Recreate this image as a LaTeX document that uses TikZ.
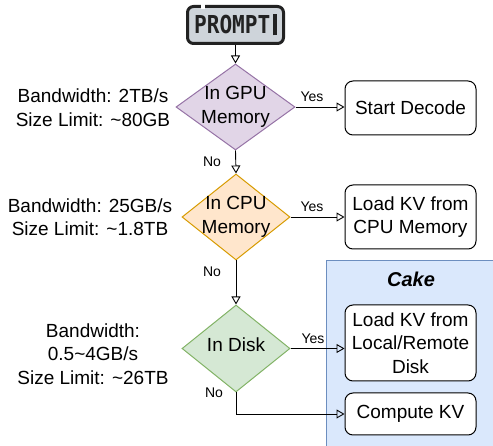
\documentclass[tikz,border=0pt]{standalone}
\usepackage{fontspec}
\setmainfont{Liberation Sans}
\newfontfamily\promptfont{DejaVu Sans Mono Bold}
\usetikzlibrary{shapes.geometric,arrows.meta}
\definecolor{gpuf}{HTML}{E1D5E7}
\definecolor{gpud}{HTML}{9673A6}
\definecolor{cpuf}{HTML}{FFE6CC}
\definecolor{cpud}{HTML}{D79B00}
\definecolor{dskf}{HTML}{D5E8D4}
\definecolor{dskd}{HTML}{82B366}
\definecolor{cakef}{HTML}{DAE8FC}
\definecolor{caked}{HTML}{6C8EBF}
\definecolor{promptf}{HTML}{CED4DA}
\definecolor{promptd}{HTML}{222222}
\begin{document}
\begin{tikzpicture}[x=1pt,y=-1pt,
  txt/.style={font=\fontsize{19}{23.5}\selectfont, align=center, inner sep=0pt},
  box/.style={txt, draw, rounded corners=8pt, fill=white, line width=1pt, minimum width=131pt},
  dia/.style={diamond, draw, line width=1pt, inner sep=0pt, minimum height=86pt},
  arr/.style={-{Triangle[open,length=8pt,width=9pt]}, line width=0.9pt},
  lbl/.style={font=\fontsize{14}{16}\selectfont, inner sep=0pt},
  ln/.style={line width=0.9pt}]
\useasboundingbox (0,0) rectangle (493,446);
% container
\node[draw=caked, fill=cakef, line width=1pt, minimum width=171pt, minimum height=189pt, inner sep=0pt] (cake) at (411.5,355.5) {};
\node[txt, font=\fontsize{20}{24}\selectfont\bfseries\itshape] (caketitle) at (411,279) {Cake};
% prompt
\node[draw=promptd, fill=promptf, line width=3pt, rounded corners=6pt, minimum width=96pt, minimum height=37pt, inner sep=0pt, text=promptd] (prompt) at (235.5,25)
  {\scalebox{0.88}[1.03]{\promptfont\fontsize{24}{26}\selectfont PROMPT}\hspace{3pt}\rule[-2pt]{3.5pt}{21pt}};
\fill[white] (201,2) rectangle (205,9);
% diamonds
\node[dia, fill=gpuf, draw=gpud, minimum width=119pt] (gpu) at (235.5,107) {};
\node[txt] (gputxt) at (235.5,107) {In GPU\\Memory};
\node[dia, fill=cpuf, draw=cpud, minimum width=108pt] (cpu) at (236,217) {};
\node[txt] (cputxt) at (236,217) {In CPU\\Memory};
\node[dia, fill=dskf, draw=dskd, minimum width=108pt, minimum height=87pt] (disk) at (236,348.5) {};
\node[txt] (disktxt) at (236,345) {In Disk};
% boxes
\node[box, minimum height=54pt] (dec) at (410.5,108) {Start Decode};
\node[box, minimum height=64pt] (lcpu) at (410.5,217) {Load KV from\\CPU Memory};
\node[box, minimum height=76pt] (ldisk) at (410.5,343) {Load KV from\\Local/Remote\\Disk};
\node[box, minimum height=42pt] (comp) at (410.5,414) {Compute KV};
% side info
\node[txt] (gpuinfo) at (93,107.5) {Bandwidth: 2TB/s\\Size Limit: \textasciitilde80GB};
\node[txt] (cpuinfo) at (90,217) {Bandwidth: 25GB/s\\Size Limit: \textasciitilde1.8TB};
\node[txt] (diskinfo) at (93,354) {Bandwidth:\\0.5\textasciitilde4GB/s\\Size Limit: \textasciitilde26TB};
% connectors
\draw[arr] (prompt.south) -- (gpu.north);
\draw[arr] (gpu.east) -- (gpu.east -| dec.west);
\draw[arr] (gpu.south) -- (cpu.north);
\draw[arr] (cpu.east) -- (cpu.east -| lcpu.west);
\draw[arr] (cpu.south) -- (disk.north);
\draw[arr] (disk.east) -- (disk.east -| ldisk.west);
\draw[arr] (disk.south) |- (comp.west);
% labels
\node[lbl] (y1) at (312,97) {Yes};
\node[lbl] (y2) at (312,207) {Yes};
\node[lbl] (y3) at (313,339) {Yes};
\node[lbl] (n1) at (212,162) {No};
\node[lbl] (n2) at (212,272) {No};
\node[lbl] (n3) at (214,393) {No};
\end{tikzpicture}
\end{document}
